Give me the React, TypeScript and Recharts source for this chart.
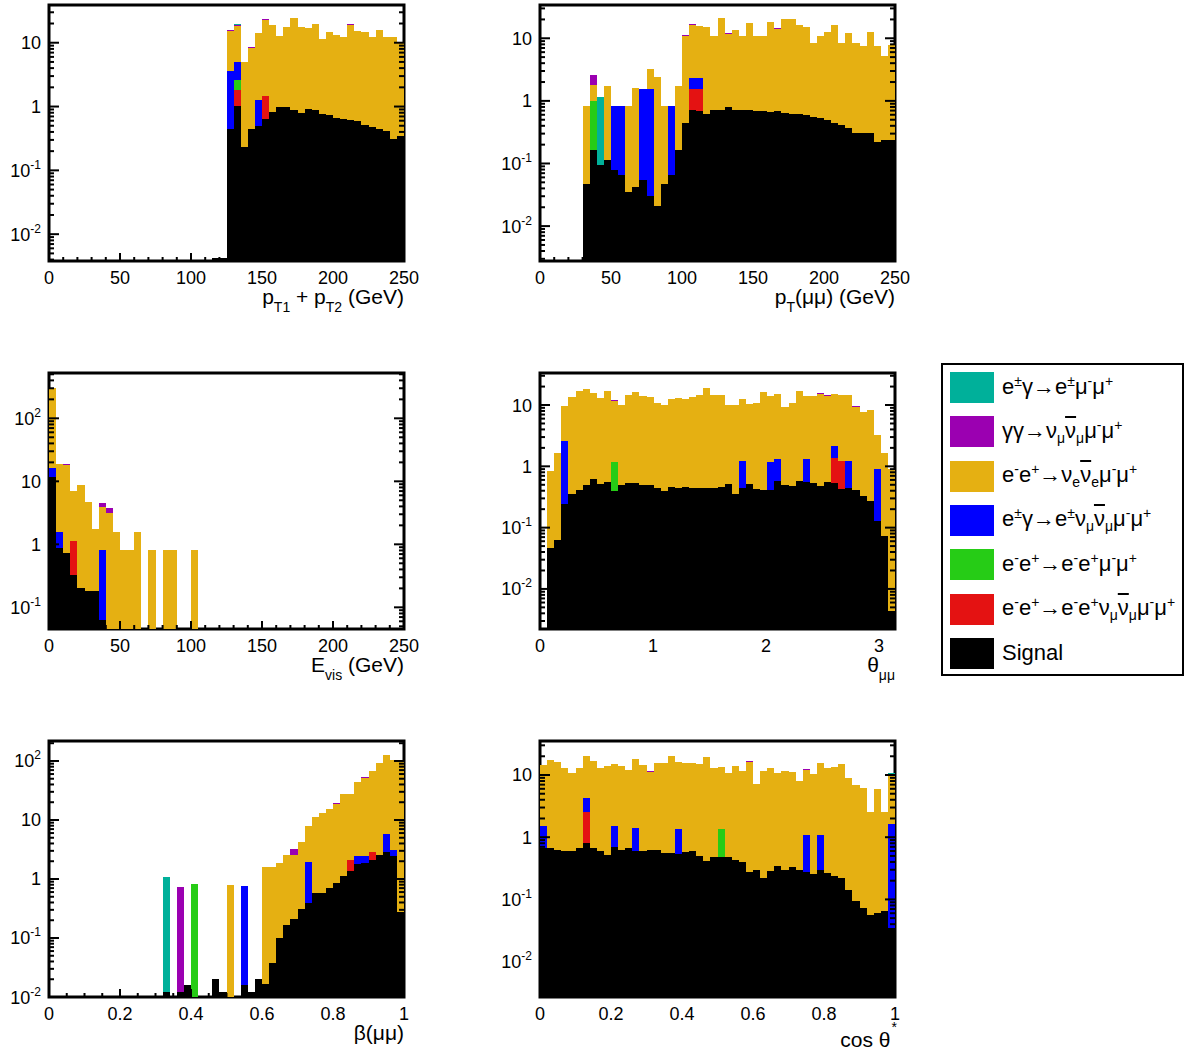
import React from "react";
import { BarChart, Bar, XAxis, YAxis, ReferenceArea } from "recharts";

const FONT = '"Liberation Sans", Arial, Helvetica, sans-serif';

const N_BINS = 50;
const PLOT_W = 355;
const PLOT_H = 256;
const Y_AXIS_W = 40;
const X_AXIS_H = 55;
const MARGIN = { top: 5, right: 20, bottom: 0, left: 5 };
const CHART_W = MARGIN.left + Y_AXIS_W + PLOT_W + MARGIN.right;
const CHART_H = MARGIN.top + PLOT_H + X_AXIS_H + MARGIN.bottom;
const BAR_W = PLOT_W / N_BINS - 0.0005;
// stacking floor, far below every visible range (clipped away)
const FLOOR = 1e-9;

// bottom of the stack first
const PROCESSES = [
  { key: "signal", color: "#000000" },
  { key: "eeeeNuNu", color: "#e41212" },
  { key: "eeee", color: "#26cc16" },
  { key: "egNuNu", color: "#0000ff" },
  { key: "eeNuNu", color: "#e5b012" },
  { key: "ggNuNu", color: "#9b00b1" },
  { key: "egMuMu", color: "#00b09a" },
];

const BINS = Array.from({ length: N_BINS }, (_, i) => i);

// ---- pT1 + pT2 ----
const PTSUM_SIGNAL = [
  0, 0, 0, 0, 0, 0, 0, 0, 0, 0,
  0, 0, 0, 0, 0, 0, 0, 0, 0, 0,
  0, 0, 0, 0.0042, 0.0042, 0.45, 1.02, 0.23, 0.45, 0.5,
  0.64, 0.83, 0.98, 1.0, 0.89, 0.79, 0.91, 0.89, 0.76, 0.74,
  0.66, 0.63, 0.62, 0.6, 0.52, 0.47, 0.45, 0.42, 0.31, 0.34,
];
const PTSUM_EENUNU = [
  0, 0, 0, 0, 0, 0, 0, 0, 0, 0,
  0, 0, 0, 0, 0, 0, 0, 0, 0, 0,
  0, 0, 0, 0, 0, 11.6, 13.6, 4.67, 7.85, 12.7,
  21.5, 18.2, 11.7, 16.4, 23.1, 17.0, 15.9, 18.5, 10.6, 13.8,
  12.5, 11.8, 18.3, 14.6, 14.0, 11.9, 15.3, 12.0, 12.1, 9.7,
];
const PTSUM_EEEENUNU: [number, number][] = [[26, 0.81], [30, 0.8]];
const PTSUM_EEEE: [number, number][] = [[26, 0.8]];
const PTSUM_EGNUNU: [number, number][] = [[25, 3.1], [26, 2.34], [29, 0.77]];
const PTSUM_GGNUNU: [number, number][] = [[25, 0.6], [26, 0.5], [28, 0.4], [30, 0.5], [33, 0.4], [42, 0.5]];
const PTSUM_EGMUMU: [number, number][] = [[26, 0.5]];

// ---- pT(mumu) ----
const PT_SIGNAL = [
  0, 0, 0, 0, 0, 0, 0.047, 0.166, 0.095, 0.115,
  0.078, 0.065, 0.035, 0.042, 0.055, 0.03, 0.021, 0.047, 0.065, 0.163,
  0.45, 0.72, 0.7, 0.61, 0.72, 0.72, 0.79, 0.72, 0.72, 0.72,
  0.68, 0.68, 0.66, 0.7, 0.64, 0.61, 0.61, 0.6, 0.56, 0.53,
  0.5, 0.44, 0.41, 0.37, 0.305, 0.31, 0.31, 0.22, 0.24, 0.24,
];
const PT_EENUNU = [
  0, 0, 0, 0, 0, 0, 0.77, 0.83, 0, 1.62,
  0, 0, 0.78, 1.54, 0, 1.65, 2.38, 0.77, 0, 1.58,
  10.55, 14.0, 13.4, 14.7, 10.2, 20.2, 10.9, 12.9, 10.2, 16.7,
  10.2, 10.2, 17.3, 13.4, 19.8, 19.8, 15.7, 14.4, 7.9, 10.4,
  12.3, 15.9, 8.1, 11.6, 8.2, 7.2, 12.5, 7.2, 4.9, 7.6,
];
const PT_EEEENUNU: [number, number][] = [[21, 0.83], [22, 0.85]];
const PT_EEEE: [number, number][] = [[7, 0.83]];
const PT_EGNUNU: [number, number][] = [[10, 0.76], [11, 0.76], [14, 1.5], [15, 1.52], [18, 0.76], [21, 0.75], [22, 0.75]];
const PT_GGNUNU: [number, number][] = [[7, 0.72], [20, 0.3], [21, 0.4], [26, 0.3], [33, 0.3]];
const PT_EGMUMU: [number, number][] = [[8, 1.05]];

// ---- E_vis ----
const EVIS_SIGNAL = [
  11.9, 0.86, 0.72, 0.33, 0.2, 0.18, 0.18, 0.063, 0, 0,
  0, 0, 0, 0, 0, 0, 0, 0, 0, 0,
  0, 0, 0, 0, 0, 0, 0, 0, 0, 0,
  0, 0, 0, 0, 0, 0, 0, 0, 0, 0,
  0, 0, 0, 0, 0, 0, 0, 0, 0, 0,
];
const EVIS_EENUNU = [
  290, 17.0, 17.5, 6.0, 8.5, 4.6, 1.56, 3.16, 3.19, 1.58,
  0.81, 0.81, 1.58, 0, 0.81, 0, 0.81, 0.81, 0, 0,
  0.81, 0, 0, 0, 0, 0, 0, 0, 0, 0,
  0, 0, 0, 0, 0, 0, 0, 0, 0, 0,
  0, 0, 0, 0, 0, 0, 0, 0, 0, 0,
];
const EVIS_EEEENUNU: [number, number][] = [[3, 0.79]];
const EVIS_EEEE: [number, number][] = [];
const EVIS_EGNUNU: [number, number][] = [[0, 4.1], [1, 0.72], [7, 0.75]];
const EVIS_GGNUNU: [number, number][] = [[1, 0.3], [2, 0.4], [7, 0.6], [8, 0.55]];
const EVIS_EGMUMU: [number, number][] = [[1, 0.3]];

// ---- theta(mumu) ----
const THETA_SIGNAL = [
  0, 0.047, 0.063, 0.24, 0.35, 0.41, 0.5, 0.61, 0.51, 0.55,
  0.39, 0.5, 0.53, 0.54, 0.5, 0.5, 0.45, 0.4, 0.46, 0.44,
  0.46, 0.45, 0.45, 0.44, 0.45, 0.46, 0.51, 0.36, 0.45, 0.51,
  0.43, 0.41, 0.41, 0.57, 0.5, 0.48, 0.57, 0.55, 0.53, 0.48,
  0.56, 0.53, 0.43, 0.45, 0.41, 0.33, 0.27, 0.13, 0.074, 0.0043,
];
const THETA_EENUNU = [
  0, 0.79, 1.56, 7.0, 13.35, 16.5, 17.5, 15.3, 12.3, 16.35,
  10.5, 9.5, 14.1, 16.0, 13.5, 12.9, 10.15, 9.6, 12.3, 12.4,
  12.3, 12.95, 14.15, 18.3, 14.15, 14.1, 9.5, 9.6, 11.2, 9.8,
  10.5, 15.7, 12.8, 13.6, 8.9, 10.4, 16.5, 12.7, 13.5, 14.6,
  13.7, 12.8, 13.4, 13.4, 8.9, 7.3, 8.0, 2.33, 1.55, 0.9,
];
const THETA_EEEENUNU: [number, number][] = [[41, 0.83], [42, 0.79]];
const THETA_EEEE: [number, number][] = [[10, 0.8]];
const THETA_EGNUNU: [number, number][] = [[3, 2.34], [28, 0.77], [32, 0.75], [33, 0.75], [37, 0.77], [41, 0.78], [43, 0.77], [47, 0.78]];
const THETA_GGNUNU: [number, number][] = [[10, 0.3], [21, 0.3], [39, 0.4], [40, 0.3], [44, 0.3]];
const THETA_EGMUMU: [number, number][] = [[23, 0.5]];

// ---- beta(mumu) ----
const BETA_SIGNAL = [
  0, 0, 0, 0, 0, 0, 0, 0, 0, 0,
  0, 0, 0, 0, 0, 0, 0.012, 0, 0.012, 0.016,
  0, 0, 0, 0.0205, 0.0122, 0, 0, 0.0162, 0.0122, 0.0205,
  0.0168, 0.038, 0.1, 0.168, 0.213, 0.31, 0.39, 0.59, 0.59, 0.69,
  0.86, 1.14, 1.35, 1.8, 1.87, 2.13, 2.58, 2.83, 2.42, 0.28,
];
const BETA_EENUNU = [
  0, 0, 0, 0, 0, 0, 0, 0, 0, 0,
  0, 0, 0, 0, 0, 0, 0, 0, 0, 0,
  0, 0, 0, 0, 0, 0.78, 0, 0, 0, 0,
  1.56, 1.54, 1.77, 2.41, 2.37, 3.93, 5.9, 10.5, 12.5, 14.9,
  18.1, 26.5, 25.5, 41.0, 49.7, 65.7, 89.9, 122, 102, 100,
];
const BETA_EEEENUNU: [number, number][] = [[42, 0.78], [45, 0.74]];
const BETA_EEEE: [number, number][] = [[20, 0.82]];
const BETA_EGNUNU: [number, number][] = [[27, 0.755], [36, 1.53], [43, 0.68], [44, 0.6], [47, 3.0], [48, 0.72]];
const BETA_GGNUNU: [number, number][] = [[18, 0.72], [34, 0.7], [40, 0.4], [44, 0.5]];
const BETA_EGMUMU: [number, number][] = [[16, 1.05]];

// ---- cos theta* ----
const COS_SIGNAL = [
  0.68, 0.68, 0.63, 0.6, 0.59, 0.66, 0.8, 0.66, 0.59, 0.51,
  0.69, 0.63, 0.66, 0.59, 0.59, 0.63, 0.63, 0.55, 0.55, 0.54,
  0.57, 0.59, 0.49, 0.42, 0.48, 0.48, 0.48, 0.43, 0.4, 0.28,
  0.3, 0.22, 0.29, 0.34, 0.3, 0.33, 0.3, 0.28, 0.26, 0.3,
  0.27, 0.24, 0.22, 0.14, 0.096, 0.073, 0.057, 0.06, 0.064, 0.035,
];
const COS_EENUNU = [
  13.0, 16.7, 15.3, 12.2, 10.0, 12.1, 15.8, 16.1, 12.2, 13.6,
  13.5, 13.2, 11.3, 16.5, 13.9, 10.7, 14.8, 14.85, 19.65, 15.0,
  15.3, 14.8, 14.5, 19.3, 12.3, 12.0, 10.1, 13.7, 11.2, 16.1,
  6.8, 11.4, 12.8, 10.3, 11.3, 11.0, 7.7, 11.1, 10.3, 14.3,
  12.5, 13.0, 14.6, 8.7, 6.8, 6.0, 2.52, 6.0, 2.5, 8.4,
];
const COS_EEEENUNU: [number, number][] = [[6, 1.71]];
const COS_EEEE: [number, number][] = [[25, 0.86]];
const COS_EGNUNU: [number, number][] = [[0, 0.84], [6, 1.72], [10, 0.83], [13, 0.8], [19, 0.82], [37, 0.81], [39, 0.8], [49, 1.58]];
const COS_GGNUNU: [number, number][] = [[6, 0.4], [11, 0.3], [15, 0.3], [29, 0.4], [37, 0.3]];
const COS_EGMUMU: [number, number][] = [[49, 0.6]];

const GEV_TICKS = [0, 50, 100, 150, 200, 250];
const THETA_TICKS = [0, 1, 2, 3];
const UNIT_TICKS = [0, 0.2, 0.4, 0.6, 0.8, 1];

const spread = (pairs: [number, number][]) => {
  const out = BINS.map(() => 0);
  pairs.forEach(([i, v]) => {
    out[i] = v;
  });
  return out;
};

const buildRows = (
  xMax: number,
  signal: number[],
  eeeeNuNu: [number, number][],
  eeee: [number, number][],
  egNuNu: [number, number][],
  eeNuNu: number[],
  ggNuNu: [number, number][],
  egMuMu: [number, number][]
) => {
  const r = spread(eeeeNuNu);
  const g = spread(eeee);
  const b = spread(egNuNu);
  const p = spread(ggNuNu);
  const t = spread(egMuMu);
  return BINS.map((i) => ({
    bin: i,
    lowEdge: (i * xMax) / N_BINS,
    floor: FLOOR,
    signal: signal[i],
    eeeeNuNu: r[i],
    eeee: g[i],
    egNuNu: b[i],
    eeNuNu: eeNuNu[i],
    ggNuNu: p[i],
    egMuMu: t[i],
  }));
};

const linearTicks = (max: number, step: number) => {
  const out: number[] = [];
  for (let i = 0; i * step <= max + 1e-9; i++) out.push(+(i * step).toFixed(6));
  return out;
};

const logTicks = (min: number, max: number) => {
  const out: number[] = [];
  for (let e = Math.floor(Math.log10(min)); e <= Math.ceil(Math.log10(max)); e++) {
    for (let m = 1; m <= 9; m++) {
      const v = +(m * Math.pow(10, e)).toPrecision(6);
      if (v >= min && v <= max) out.push(v);
    }
  }
  return out;
};

const Sub = ({ children }: { children: React.ReactNode }) => (
  <span style={{ fontSize: 14, position: "relative", top: 8 }}>{children}</span>
);

const LSup = ({ children }: { children: React.ReactNode }) => (
  <span style={{ fontSize: 14, position: "relative", top: -8 }}>{children}</span>
);
const LSub = ({ children }: { children: React.ReactNode }) => (
  <span style={{ fontSize: 14, position: "relative", top: 5 }}>{children}</span>
);
const NuBar = () => <span style={{ textDecoration: "overline" }}>ν</span>;

const LEGEND_LABELS: Record<string, React.ReactNode> = {
  egMuMu: (
    <>
      e<LSup>±</LSup>γ→e<LSup>±</LSup>μ<LSup>-</LSup>μ<LSup>+</LSup>
    </>
  ),
  ggNuNu: (
    <>
      γγ→ν<LSub>μ</LSub>
      <NuBar />
      <LSub>μ</LSub>μ<LSup>-</LSup>μ<LSup>+</LSup>
    </>
  ),
  eeNuNu: (
    <>
      e<LSup>-</LSup>e<LSup>+</LSup>→ν<LSub>e</LSub>
      <NuBar />
      <LSub>e</LSub>μ<LSup>-</LSup>μ<LSup>+</LSup>
    </>
  ),
  egNuNu: (
    <>
      e<LSup>±</LSup>γ→e<LSup>±</LSup>ν<LSub>μ</LSub>
      <NuBar />
      <LSub>μ</LSub>μ<LSup>-</LSup>μ<LSup>+</LSup>
    </>
  ),
  eeee: (
    <>
      e<LSup>-</LSup>e<LSup>+</LSup>→e<LSup>-</LSup>e<LSup>+</LSup>μ<LSup>-</LSup>μ<LSup>+</LSup>
    </>
  ),
  eeeeNuNu: (
    <>
      e<LSup>-</LSup>e<LSup>+</LSup>→e<LSup>-</LSup>e<LSup>+</LSup>ν<LSub>μ</LSub>
      <NuBar />
      <LSub>μ</LSub>μ<LSup>-</LSup>μ<LSup>+</LSup>
    </>
  ),
  signal: "Signal",
};

const PANELS = [
  {
    id: "ptsum",
    left: 49,
    top: 5,
    xMax: 250,
    xMajor: GEV_TICKS,
    xMinor: 10,
    yMin: 0.0038,
    yMax: 39,
    rows: buildRows(250, PTSUM_SIGNAL, PTSUM_EEEENUNU, PTSUM_EEEE, PTSUM_EGNUNU, PTSUM_EENUNU, PTSUM_GGNUNU, PTSUM_EGMUMU),
    titleDy: 25,
    title: (
      <>
        p<Sub>T1</Sub> + p<Sub>T2</Sub> (GeV)
      </>
    ),
  },
  {
    id: "pt",
    left: 540,
    top: 5,
    xMax: 250,
    xMajor: GEV_TICKS,
    xMinor: 10,
    yMin: 0.00277,
    yMax: 34,
    rows: buildRows(250, PT_SIGNAL, PT_EEEENUNU, PT_EEEE, PT_EGNUNU, PT_EENUNU, PT_GGNUNU, PT_EGMUMU),
    titleDy: 25,
    title: (
      <>
        p<Sub>T</Sub>(μμ) (GeV)
      </>
    ),
  },
  {
    id: "evis",
    left: 49,
    top: 373,
    xMax: 250,
    xMajor: GEV_TICKS,
    xMinor: 10,
    yMin: 0.0453,
    yMax: 524,
    rows: buildRows(250, EVIS_SIGNAL, EVIS_EEEENUNU, EVIS_EEEE, EVIS_EGNUNU, EVIS_EENUNU, EVIS_GGNUNU, EVIS_EGMUMU),
    titleDy: 25,
    title: (
      <>
        E<Sub>vis</Sub> (GeV)
      </>
    ),
  },
  {
    id: "theta",
    left: 540,
    top: 373,
    xMax: Math.PI,
    xMajor: THETA_TICKS,
    xMinor: 0.2,
    yMin: 0.00222,
    yMax: 33.3,
    rows: buildRows(Math.PI, THETA_SIGNAL, THETA_EEEENUNU, THETA_EEEE, THETA_EGNUNU, THETA_EENUNU, THETA_GGNUNU, THETA_EGMUMU),
    titleDy: 25,
    title: (
      <>
        θ<Sub>μμ</Sub>
      </>
    ),
  },
  {
    id: "beta",
    left: 49,
    top: 741,
    xMax: 1,
    xMajor: UNIT_TICKS,
    xMinor: 0.05,
    yMin: 0.01,
    yMax: 218,
    rows: buildRows(1, BETA_SIGNAL, BETA_EEEENUNU, BETA_EEEE, BETA_EGNUNU, BETA_EENUNU, BETA_GGNUNU, BETA_EGMUMU),
    titleDy: 25,
    title: <>β(μμ)</>,
  },
  {
    id: "cos",
    left: 540,
    top: 741,
    xMax: 1,
    xMajor: UNIT_TICKS,
    xMinor: 0.05,
    yMin: 0.0027,
    yMax: 35.2,
    rows: buildRows(1, COS_SIGNAL, COS_EEEENUNU, COS_EEEE, COS_EGNUNU, COS_EENUNU, COS_GGNUNU, COS_EGMUMU),
    titleDy: 32,
    title: (
      <>
        cos θ
        <span style={{ fontSize: 14, position: "relative", top: -15, marginLeft: 1, marginRight: -2 }}>*</span>
      </>
    ),
  },
];

const HistRect = (p: any) => {
  const { x, y, width, height, fill } = p;
  if (![x, y, width, height].every((n) => Number.isFinite(n)) || height <= 0) return <g />;
  return (
    <rect x={x} y={y} width={width + 0.02} height={height} fill={fill} shapeRendering="crispEdges" />
  );
};

const YTick = (props: any) => {
  const { x, y, payload } = props;
  const lg = Math.log10(payload.value);
  const e = Math.round(lg);
  const major = Math.abs(lg - e) < 1e-6;
  const len = major ? 10 : 5;
  return (
    <g>
      <line x1={x} x2={x + len} y1={y} y2={y} stroke="#000" strokeWidth={2} />
      <line x1={x + PLOT_W - len} x2={x + PLOT_W} y1={y} y2={y} stroke="#000" strokeWidth={2} />
      {major && (
        <text x={x - 8} y={y + 6.5} textAnchor="end" fontFamily={FONT} fontSize={18} fill="#000">
          {e === 0 ? (
            "1"
          ) : e === 1 ? (
            "10"
          ) : (
            <>
              <tspan>10</tspan>
              <tspan dy={-8} fontSize={12}>
                {String(e)}
              </tspan>
            </>
          )}
        </text>
      )}
    </g>
  );
};

const XTick = (props: any) => {
  const { x, y, payload, majors } = props;
  const v = payload.value;
  const m = majors.find((t: number) => Math.abs(t - v) < 1e-9);
  const major = m !== undefined;
  return (
    <g>
      <line x1={x} x2={x} y1={y} y2={y - (major ? 8 : 4)} stroke="#000" strokeWidth={2} />
      {major && (
        <text x={x} y={y + 22.5} textAnchor="middle" fontFamily={FONT} fontSize={18} fill="#000">
          {String(m)}
        </text>
      )}
    </g>
  );
};

const Panel = ({ cfg }: { cfg: (typeof PANELS)[number] }) => {
  const xTicks = linearTicks(cfg.xMax, cfg.xMinor);
  const yTicks = logTicks(cfg.yMin, cfg.yMax);
  return (
    <>
      <div
        style={{
          position: "absolute",
          left: cfg.left - MARGIN.left - Y_AXIS_W,
          top: cfg.top - MARGIN.top,
        }}
      >
        <BarChart width={CHART_W} height={CHART_H} data={cfg.rows} margin={MARGIN} barSize={BAR_W}>
          <XAxis
            xAxisId="num"
            dataKey="lowEdge"
            type="number"
            domain={[0, cfg.xMax]}
            allowDataOverflow
            ticks={xTicks}
            interval={0}
            height={X_AXIS_H}
            tickSize={0}
            tickMargin={0}
            axisLine={false}
            tickLine={false}
            tick={(p: any) => <XTick {...p} majors={cfg.xMajor} />}
          />
          <XAxis xAxisId="bins" dataKey="bin" type="category" hide height={0} />
          <Bar
            dataKey="floor"
            stackId="h"
            xAxisId="bins"
            fill="none"
            isAnimationActive={false}
            shape={() => <g />}
          />
          {PROCESSES.map((p) => (
            <Bar
              key={p.key}
              dataKey={p.key}
              stackId="h"
              xAxisId="bins"
              fill={p.color}
              isAnimationActive={false}
              shape={HistRect}
            />
          ))}
          <YAxis
            type="number"
            scale="log"
            domain={[cfg.yMin, cfg.yMax]}
            allowDataOverflow
            ticks={yTicks}
            interval={0}
            width={Y_AXIS_W}
            tickSize={0}
            tickMargin={0}
            axisLine={false}
            tickLine={false}
            tick={(p: any) => <YTick {...p} />}
          />
          <ReferenceArea
            xAxisId="num"
            x1={0}
            x2={cfg.xMax}
            y1={cfg.yMin}
            y2={cfg.yMax}
            fill="none"
            fillOpacity={0}
            stroke="#000"
            strokeWidth={3}
            ifOverflow="visible"
          />
        </BarChart>
      </div>
      <div
        style={{
          position: "absolute",
          left: cfg.left + PLOT_W - 400,
          width: 400,
          top: cfg.top + PLOT_H + cfg.titleDy,
          textAlign: "right",
          fontFamily: FONT,
          fontSize: 21,
          lineHeight: "21px",
          whiteSpace: "nowrap",
          color: "#000",
        }}
      >
        {cfg.title}
      </div>
    </>
  );
};

const Legend = () => (
  <div
    style={{
      position: "absolute",
      left: 941,
      top: 363,
      width: 243,
      height: 313,
      border: "2px solid #000",
      boxSizing: "border-box",
      background: "#fff",
    }}
  >
    {[...PROCESSES].reverse().map((p, i) => (
      <div
        key={p.key}
        style={{
          position: "absolute",
          left: 7,
          top: 7 + i * 44.3,
          height: 31,
          display: "flex",
          alignItems: "center",
        }}
      >
        <div style={{ width: 44, height: 31, background: p.color, flex: "none" }} />
        <div
          style={{
            marginLeft: 8,
            fontFamily: FONT,
            fontSize: 22,
            lineHeight: "22px",
            whiteSpace: "nowrap",
            color: "#000",
          }}
        >
          {LEGEND_LABELS[p.key]}
        </div>
      </div>
    ))}
  </div>
);

export default function App() {
  return (
    <div style={{ position: "absolute", left: 0, top: 0, width: 1194, height: 1054, background: "#fff" }}>
      {PANELS.map((cfg) => (
        <Panel key={cfg.id} cfg={cfg} />
      ))}
      <Legend />
    </div>
  );
}
